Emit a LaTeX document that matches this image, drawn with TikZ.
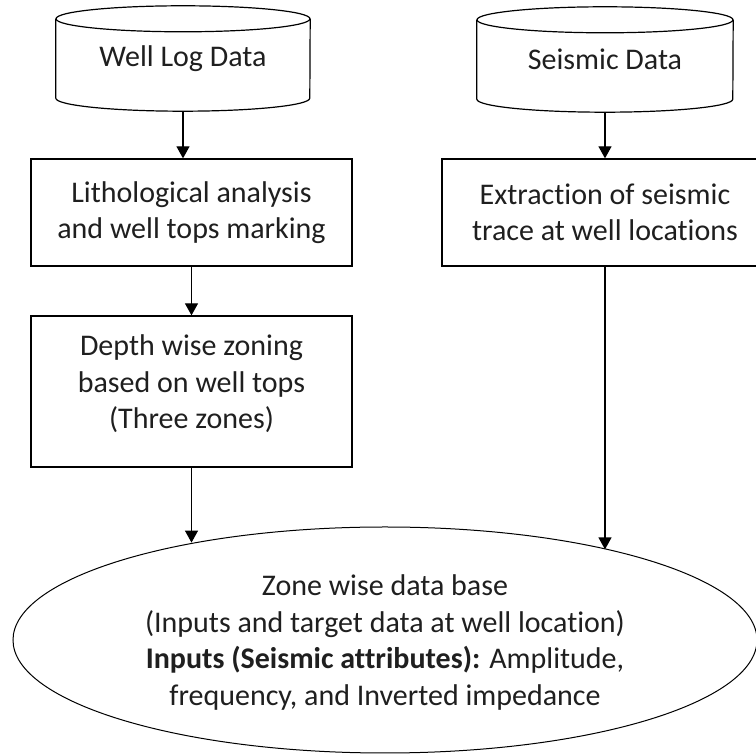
\documentclass[tikz,border=0pt]{standalone}
\usepackage{fontspec}
\setmainfont{Carlito}[Ligatures=NoCommon]
\usetikzlibrary{arrows.meta,shapes.geometric,calc}
\begin{document}
\begin{tikzpicture}[x=1pt,y=1pt,
  txt/.style={font=\fontsize{30}{36.5}\selectfont, text=black!88, align=center},
  boxnode/.style={txt, draw, line width=1.3pt, inner sep=0pt},
  cylline/.style={line width=1.2pt},
  arr/.style={line width=1.3pt, -{Triangle[width=13pt,length=12pt]}},
]
\useasboundingbox (0,0) rectangle (756,755);
\clip (0,0) rectangle (756,755);

% cylinders
\node[txt, minimum width=254pt, minimum height=105pt, inner sep=0pt] (wl) at (183,696.5) {Well Log Data};
\draw[cylline] ($(wl.north)+(0,-13)$) ellipse [x radius=127pt, y radius=13pt];
\draw[cylline] ($(wl.north west)+(0,-13)$) -- ($(wl.south west)+(0,13)$)
  arc[start angle=180, end angle=360, x radius=127pt, y radius=13pt] -- ($(wl.north east)+(0,-13)$);

\node[txt, minimum width=256pt, minimum height=105pt, inner sep=0pt] (sd) at (605,695.5) {Seismic Data};
\draw[cylline] ($(sd.north)+(0,-13)$) ellipse [x radius=128pt, y radius=13pt];
\draw[cylline] ($(sd.north west)+(0,-13)$) -- ($(sd.south west)+(0,13)$)
  arc[start angle=180, end angle=360, x radius=128pt, y radius=13pt] -- ($(sd.north east)+(0,-13)$);

% boxes
\node[boxnode, minimum width=321pt, minimum height=107pt] (b1) at (191.5,542.5)
  {Lithological analysis\\and well tops marking};
\node[boxnode, minimum width=326pt, minimum height=107pt] (b2) at (605,542.5)
  {Extraction of seismic\\trace at well locations};
\node[boxnode, minimum width=321pt, minimum height=151pt, text depth=19pt] (b3) at (191.5,363.5)
  {Depth wise zoning\\based on well tops\\(Three zones)};

% ellipse
\node[txt, draw, ellipse, line width=1pt, inner sep=0pt, minimum width=744pt, minimum height=226pt, text depth=-5pt] (zdb) at (385,115)
  {Zone wise data base\\(Inputs and target data at well location)\\\textbf{Inputs (Seismic attributes):} Amplitude,\\frequency, and Inverted impedance};

% connectors
\draw[arr] (wl.south) -- (wl.south |- b1.north);
\draw[arr] (sd.south) -- (sd.south |- b2.north);
\draw[arr] (b1.south) -- (b3.north);
\draw[arr] (b3.south) -- (b3.south |- zdb.153.5);
\draw[arr] (b2.south) -- (b2.south |- zdb.22.5);
\end{tikzpicture}
\end{document}
